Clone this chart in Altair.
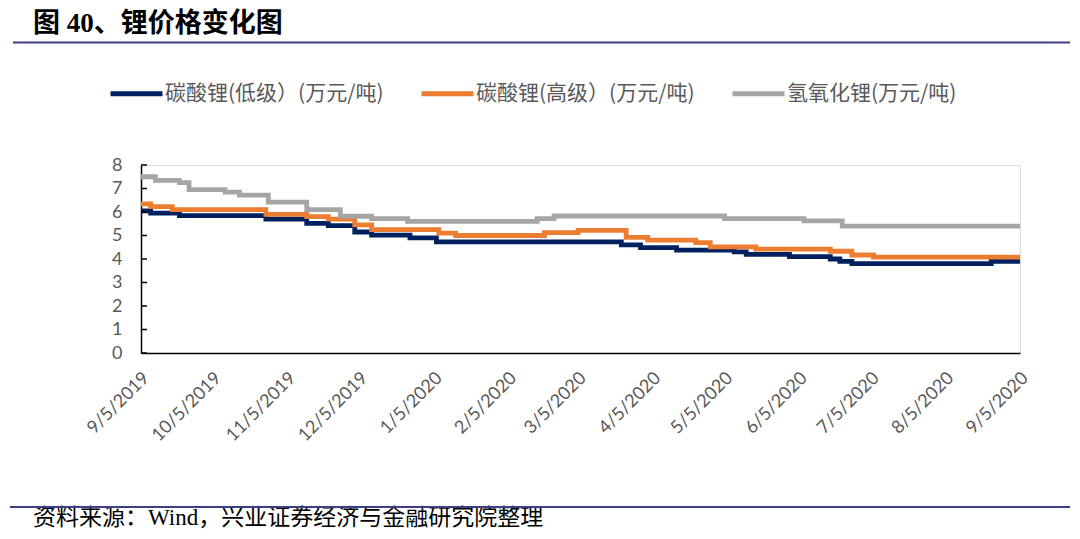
import altair as alt
import pandas as pd

# ---------------- data ----------------
series_names = ["碳酸锂(低级）(万元/吨)", "碳酸锂(高级）(万元/吨)", "氢氧化锂(万元/吨)"]
series_colors = ["#002060", "#ED7D31", "#A5A5A5"]

low_dates = ["2019-09-05", "2019-09-09", "2019-09-21", "2019-10-27", "2019-11-13",
             "2019-11-22", "2019-12-03", "2019-12-10", "2019-12-26", "2020-01-06",
             "2020-03-23", "2020-03-31", "2020-04-15", "2020-05-09", "2020-05-14",
             "2020-06-01", "2020-06-18", "2020-06-22", "2020-06-27", "2020-08-24",
             "2020-09-05"]
low_values = [6.05, 5.95, 5.85, 5.7, 5.52, 5.42, 5.15, 5.02, 4.9, 4.73,
              4.6, 4.48, 4.38, 4.3, 4.2, 4.1, 4.0, 3.9, 3.8, 3.9, 3.9]

high_dates = ["2019-09-05", "2019-09-09", "2019-09-18", "2019-10-27", "2019-11-13",
              "2019-11-22", "2019-12-03", "2019-12-10", "2020-01-07", "2020-01-14",
              "2020-02-20", "2020-03-05", "2020-03-25", "2020-04-03", "2020-04-23",
              "2020-04-29", "2020-05-18", "2020-06-18", "2020-06-27", "2020-07-06",
              "2020-09-05"]
high_values = [6.35, 6.23, 6.1, 5.9, 5.8, 5.7, 5.45, 5.25, 5.1, 5.0,
               5.12, 5.22, 4.92, 4.8, 4.7, 4.52, 4.42, 4.33, 4.17, 4.08, 4.08]

lioh_dates = ["2019-09-05", "2019-09-11", "2019-09-21", "2019-09-25", "2019-10-10",
              "2019-10-16", "2019-10-28", "2019-11-13", "2019-11-27", "2019-12-10",
              "2019-12-25", "2020-02-17", "2020-02-24", "2020-05-05", "2020-06-07",
              "2020-06-23", "2020-09-05"]
lioh_values = [7.5, 7.35, 7.25, 6.95, 6.85, 6.72, 6.42, 6.1, 5.82, 5.72,
               5.6, 5.72, 5.83, 5.72, 5.62, 5.4, 5.4]

# monthly tick labels (year, month), day 5
tick_months = [(2019, 9), (2019, 10), (2019, 11), (2019, 12), (2020, 1), (2020, 2),
               (2020, 3), (2020, 4), (2020, 5), (2020, 6), (2020, 7), (2020, 8),
               (2020, 9)]
y_ticks = [0, 1, 2, 3, 4, 5, 6, 7, 8]

title_text = "图 40、锂价格变化图"
source_text = "资料来源：Wind，兴业证券经济与金融研究院整理"

# ---------------- build table ----------------
frames = []
for name, d, v in zip(series_names, [low_dates, high_dates, lioh_dates],
                      [low_values, high_values, lioh_values]):
    frames.append(pd.DataFrame({"date": d, "value": v, "series": name}))
df = pd.concat(frames, ignore_index=True)

W, H = 879, 188
PAD_L, PAD_T = 133, 157
PAD_R = 1064 - PAD_L - W
PAD_B = 523 - PAD_T - H

axis_font = "Lato"
cjk_font = "Noto Sans CJK SC"
serif_font = "Liberation Serif, Noto Sans CJK SC"
grey_txt = "#595959"

x_enc = alt.X(
    "date:T",
    scale=alt.Scale(type="utc",
                    domain=[alt.DateTime(year=2019, month=9, date=5, utc=True),
                            alt.DateTime(year=2020, month=9, date=5, utc=True)]),
    axis=alt.Axis(
        values=[alt.DateTime(year=y, month=m, date=5, utc=True) for y, m in tick_months],
        format="%-m/%-d/%Y", labelAngle=-45, labelAlign="right", labelBaseline="middle",
        labelFont=axis_font, labelFontSize=18, labelColor=grey_txt,
        ticks=False, tickSize=0, labelPadding=22, labelOffset=5,
        domainColor="black", domainWidth=1.5, grid=False, title=None,
        labelOverlap=False, labelFlush=False, labelBound=False),
)
y_enc = alt.Y(
    "value:Q",
    scale=alt.Scale(domain=[0, 8], nice=False, zero=True),
    axis=alt.Axis(values=y_ticks, tickCount=9, ticks=False, tickSize=0, labelPadding=19,
                  labelFont=axis_font, labelFontSize=18, labelColor=grey_txt,
                  labelOverlap=False, labelFlush=False, labelBound=False,
                  domainColor="black", domainWidth=1.5, grid=False, title=None),
)

lines = alt.Chart(df).mark_line(interpolate="step-after", strokeWidth=4.8).encode(
    x=x_enc,
    y=y_enc,
    color=alt.Color(
        "series:N",
        scale=alt.Scale(domain=series_names, range=series_colors),
        sort=series_names,
        legend=alt.Legend(
            title=None, orient="none", legendX=-33, legendY=-100,
            direction="horizontal", symbolType="stroke", symbolSize=2700,
            symbolStrokeWidth=5, labelFont=cjk_font, labelFontSize=21,
            labelColor=grey_txt, labelLimit=500, columnPadding=27,
            labelOffset=0, padding=0),
    ),
)

tick_df = pd.DataFrame({"value": y_ticks})
ticks = alt.Chart(tick_df).mark_rule(color="black", strokeWidth=1.5).encode(
    y=y_enc, x=alt.value(0), x2=alt.value(6)
)

title = alt.Chart(pd.DataFrame({"t": [title_text]})).mark_text(
    align="left", baseline="middle", font=serif_font, fontSize=27,
    fontWeight="bold", color="black"
).encode(x=alt.value(-108), y=alt.value(-141), text="t:N")

src = alt.Chart(pd.DataFrame({"t": [source_text]})).mark_text(
    align="left", baseline="middle", font=serif_font, fontSize=23, color="black"
).encode(x=alt.value(-108), y=alt.value(353), text="t:N")

rule_df = pd.DataFrame({"k": [1]})
top_rule = alt.Chart(rule_df).mark_rule(color="#3C3F85", strokeWidth=2).encode(
    x=alt.value(-128), x2=alt.value(929), y=alt.value(-122.5)
)
bot_rule = alt.Chart(rule_df).mark_rule(color="#3C3F85", strokeWidth=2).encode(
    x=alt.value(-131), x2=alt.value(929), y=alt.value(342)
)

chart = alt.layer(lines, ticks, title, src, top_rule, bot_rule).properties(
    width=W, height=H,
    autosize=alt.AutoSizeParams(type="none"),
    padding={"left": PAD_L, "top": PAD_T, "right": PAD_R, "bottom": PAD_B},
).configure_view(strokeWidth=0).configure(background="white")

chart.save("out.html", embed_options={"renderer": "svg", "actions": False})
